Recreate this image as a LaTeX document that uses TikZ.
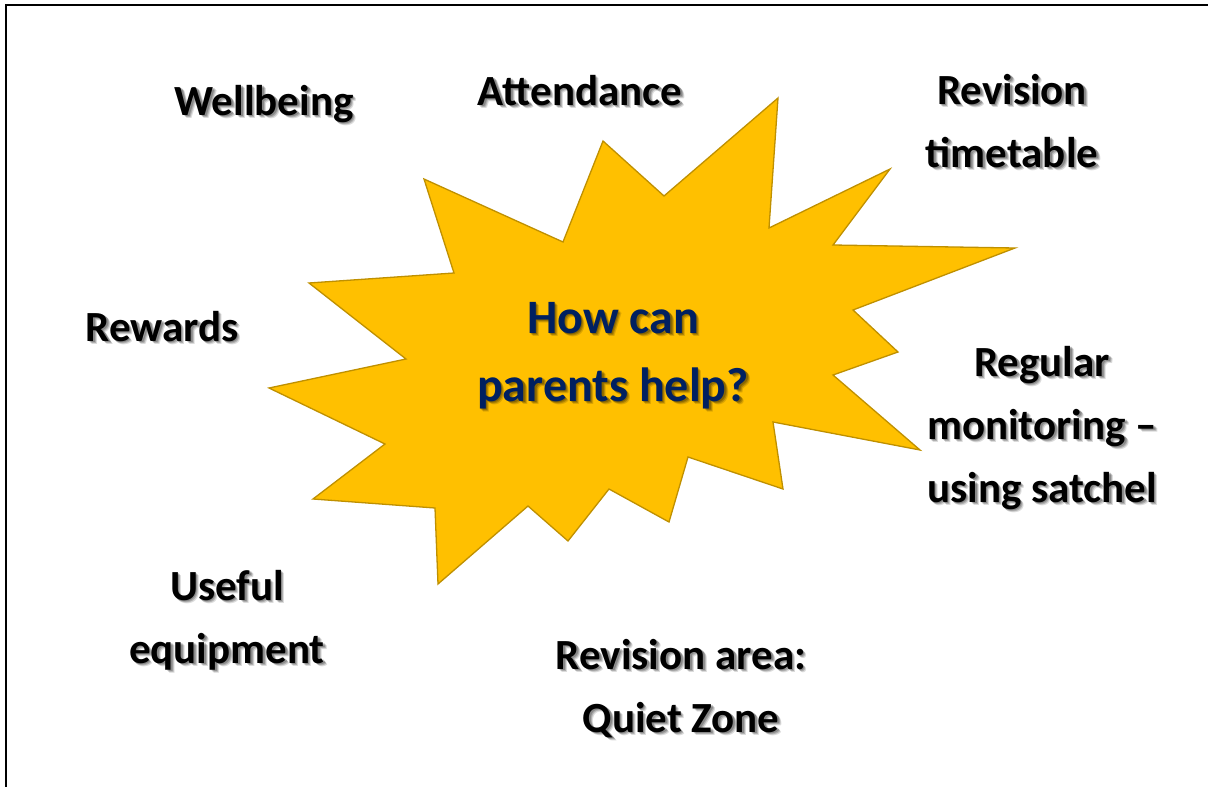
\documentclass[tikz,border=0pt]{standalone}
\usepackage{fontspec}
\setmainfont{Carlito}
\definecolor{starfill}{HTML}{FFC000}
\definecolor{starline}{HTML}{BF9000}
\definecolor{navy}{HTML}{002060}
% label with a soft grey drop shadow: style, name, x, y (baseline of last line), text
\newcommand\shadowlabel[5]{%
  \node[#1, text=black, opacity=.14] at (#3+3.6, #4+3.6) {#5};
  \node[#1, text=black, opacity=.20] at (#3+2.6, #4+2.6) {#5};
  \node[#1, text=black, opacity=.22] at (#3+1.6, #4+1.6) {#5};
  \node[#1] (#2) at (#3, #4) {#5};}
\begin{document}
\begin{tikzpicture}[x=1pt, y=-1pt,
  lbl/.style={font=\fontsize{43}{63}\selectfont\bfseries, align=center,
    inner sep=0pt, anchor=base, text=black},
  hublbl/.style={lbl, font=\fontsize{48}{68}\selectfont\bfseries, text=navy},
  burst/.style={fill=starfill, draw=starline, line width=1.3pt, line join=miter}]
\useasboundingbox (0,0) rectangle (1208,787);
\fill[white] (0,0) rectangle (1208,787);

% frame
\draw[line width=2pt] (6,787) -- (6,5) -- (1208,5);

% central starburst
\draw[burst] (603,141) -- (664,196) -- (778,98) -- (769,228) -- (890,169)
  -- (833,245) -- (1015,248) -- (853,310) -- (898,352) -- (833,375)
  -- (920,450) -- (773,422) -- (783,489) -- (688,457) -- (669,522)
  -- (609,489) -- (568,541) -- (528,506) -- (438,584) -- (435,508)
  -- (313,499) -- (385,444) -- (269,388) -- (406,359) -- (309,283)
  -- (454,273) -- (424,179) -- (563,242) -- cycle;

\shadowlabel{hublbl}{hub}{613}{401}{How can\\parents help?}

\shadowlabel{lbl}{wellbeing}{264}{115}{Wellbeing}
\shadowlabel{lbl}{attendance}{580}{105}{Attendance}
\shadowlabel{lbl}{timetable}{1012}{167}{Revision\\timetable}
\shadowlabel{lbl}{rewards}{162}{341}{Rewards}
\shadowlabel{lbl}{monitoring}{1042}{502}{Regular\\monitoring –\\using satchel}
\shadowlabel{lbl}{equipment}{227}{663}{Useful\\equipment}
\shadowlabel{lbl}{area}{681}{732}{Revision area:\\Quiet Zone}
\end{tikzpicture}
\end{document}
